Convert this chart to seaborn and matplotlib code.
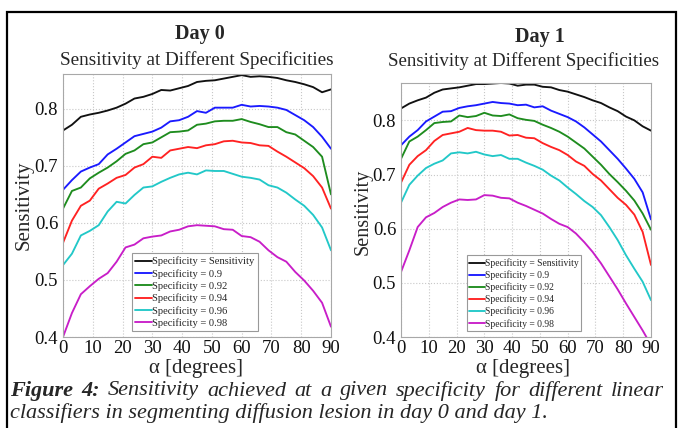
import numpy as np
import pandas as pd
import matplotlib
matplotlib.use("Agg")
import matplotlib.pyplot as plt
import seaborn as sns

# ---------------- data ----------------
alpha = list(range(0, 91, 3))
labels = ["Specificity = Sensitivity", "Specificity = 0.9", "Specificity = 0.92",
          "Specificity = 0.94", "Specificity = 0.96", "Specificity = 0.98"]

d0_sens = [0.762,0.772,0.786,0.790,0.793,0.797,0.802,0.809,0.818,0.821,0.826,0.833,0.832,0.836,0.840,0.847,
           0.849,0.850,0.853,0.856,0.859,0.856,0.857,0.856,0.854,0.850,0.847,0.843,0.838,0.829,0.834]
d0_090 = [0.658,0.675,0.690,0.697,0.703,0.720,0.730,0.741,0.752,0.756,0.760,0.767,0.778,0.780,0.786,0.796,
          0.793,0.802,0.802,0.802,0.807,0.804,0.805,0.804,0.802,0.798,0.789,0.780,0.768,0.751,0.730]
d0_092 = [0.625,0.656,0.662,0.678,0.688,0.697,0.708,0.721,0.727,0.738,0.741,0.750,0.759,0.760,0.762,0.772,
          0.774,0.778,0.779,0.779,0.782,0.777,0.773,0.768,0.768,0.759,0.755,0.744,0.733,0.716,0.650]
d0_094 = [0.565,0.604,0.630,0.639,0.660,0.669,0.679,0.684,0.697,0.703,0.716,0.714,0.727,0.730,0.733,0.731,
          0.736,0.738,0.743,0.744,0.741,0.740,0.736,0.735,0.725,0.716,0.706,0.696,0.682,0.662,0.625]
d0_096 = [0.526,0.546,0.578,0.586,0.596,0.620,0.637,0.634,0.649,0.662,0.664,0.672,0.679,0.685,0.688,0.685,
          0.692,0.691,0.691,0.686,0.681,0.679,0.676,0.666,0.662,0.653,0.641,0.630,0.614,0.592,0.552]
d0_098 = [0.400,0.442,0.475,0.489,0.502,0.512,0.532,0.557,0.562,0.573,0.576,0.578,0.585,0.588,0.594,0.596,
          0.595,0.594,0.589,0.588,0.577,0.575,0.567,0.552,0.540,0.532,0.514,0.499,0.481,0.460,0.418]

d1_sens = [0.822,0.831,0.837,0.842,0.851,0.857,0.859,0.861,0.864,0.867,0.867,0.868,0.869,0.868,0.864,0.866,
           0.866,0.862,0.861,0.856,0.853,0.848,0.843,0.837,0.832,0.824,0.817,0.807,0.800,0.789,0.781]
d1_090 = [0.754,0.770,0.782,0.798,0.807,0.816,0.817,0.823,0.826,0.828,0.831,0.834,0.832,0.831,0.828,0.829,
          0.824,0.826,0.818,0.812,0.806,0.798,0.787,0.774,0.761,0.745,0.729,0.711,0.692,0.667,0.617]
d1_092 = [0.729,0.761,0.770,0.782,0.795,0.797,0.798,0.809,0.806,0.808,0.814,0.809,0.808,0.811,0.804,0.801,
          0.799,0.792,0.786,0.779,0.770,0.759,0.748,0.733,0.718,0.701,0.686,0.670,0.652,0.628,0.598]
d1_094 = [0.685,0.718,0.734,0.745,0.762,0.773,0.776,0.779,0.786,0.782,0.781,0.781,0.779,0.772,0.773,0.768,
          0.767,0.758,0.751,0.745,0.736,0.724,0.716,0.701,0.689,0.673,0.657,0.644,0.626,0.594,0.533]
d1_096 = [0.648,0.681,0.698,0.712,0.720,0.726,0.739,0.741,0.739,0.742,0.737,0.734,0.736,0.729,0.729,0.722,
          0.716,0.709,0.698,0.689,0.676,0.664,0.651,0.640,0.625,0.603,0.579,0.551,0.526,0.502,0.468]
d1_098 = [0.520,0.560,0.603,0.621,0.629,0.640,0.648,0.654,0.653,0.654,0.662,0.661,0.657,0.656,0.648,0.642,
          0.635,0.628,0.618,0.609,0.603,0.591,0.575,0.557,0.536,0.512,0.488,0.462,0.437,0.412,0.385]

x_ticks = [0, 10, 20, 30, 40, 50, 60, 70, 80, 90]
y_ticks = [0.4, 0.5, 0.6, 0.7, 0.8]
colors = ["#111111", "#1a1aff", "#1e8c1e", "#ff2222", "#22c8c8", "#c81ec8"]

# ---------------- style ----------------
sns.set_theme(style="white")
plt.rcParams["font.family"] = ["Liberation Serif", "DejaVu Serif"]

W, H = 682, 428
fig = plt.figure(figsize=(W / 100, H / 100), dpi=100)

def px_rect(l, t, r, b):
    return [l / W, 1 - b / H, (r - l) / W, (b - t) / H]

def make_df(series):
    rows = []
    for lab, vals in zip(labels, series):
        for a, v in zip(alpha, vals):
            rows.append((a, v, lab))
    return pd.DataFrame(rows, columns=["alpha", "sens", "curve"])

panels = [
    dict(rect=px_rect(63, 74, 331, 337), series=[d0_sens, d0_090, d0_092, d0_094, d0_096, d0_098],
         ytop=0.861, leg=(0.258, 0.022), legfs=7.6),
    dict(rect=px_rect(401, 83, 651, 337), series=[d1_sens, d1_090, d1_092, d1_094, d1_096, d1_098],
         ytop=0.869, leg=(0.262, 0.022), legfs=6.9),
]

for p in panels:
    ax = fig.add_axes(p["rect"])
    df = make_df(p["series"])
    sns.lineplot(data=df, x="alpha", y="sens", hue="curve", hue_order=labels,
                 palette=colors, ax=ax, linewidth=1.35, legend=True)
    ax.set_xlim(0, 90)
    ax.set_ylim(0.4, p["ytop"])
    ax.set_xticks(x_ticks)
    ax.set_yticks(y_ticks)
    ax.set_yticklabels([f"{v:g}" for v in y_ticks])
    ax.set_xlabel("")
    ax.set_ylabel("")
    ax.grid(True, linestyle=":", color="#c8c8c8", linewidth=0.8)
    for s in ax.spines.values():
        s.set_color("#a8a8a8")
        s.set_linewidth(0.8)
    ax.tick_params(axis="both", labelsize=13.5, length=2, direction="in", color="#a8a8a8",
                   colors="#111111")
    ax.tick_params(axis="y", pad=3.5)
    ax.tick_params(axis="x", pad=2.5)
    handles, labs = ax.get_legend_handles_labels()
    leg = ax.legend(handles, labs, loc="lower left", bbox_to_anchor=p["leg"],
                    fontsize=p["legfs"], frameon=True, fancybox=False, handlelength=1.6,
                    handletextpad=0.0, labelspacing=0.25, borderpad=0.3, borderaxespad=0)
    leg.get_frame().set_edgecolor("#999999")
    leg.get_frame().set_linewidth(0.8)
    leg.get_frame().set_facecolor("white")
    leg.get_frame().set_alpha(1)

# ---------------- titles / labels ----------------
def ft(xp, yp, s, **kw):
    return fig.text(xp / W, 1 - yp / H, s, ha="center", va="center", **kw)

ft(200, 34, "Day 0", fontsize=14.5, fontweight="bold")
ft(197, 60, "Sensitivity at Different Specificities", fontsize=13.8)
ft(540, 37, "Day 1", fontsize=14.5, fontweight="bold")
ft(523, 61, "Sensitivity at Different Specificities", fontsize=13.6)
ft(24, 205, "Sensitivity", fontsize=15, rotation=90)
ft(363, 212, "Sensitivity", fontsize=14.5, rotation=90)
ft(196, 369, "α [degrees]", fontsize=15)
ft(523, 369, "α [degrees]", fontsize=15)

# ---------------- caption (justified first line) ----------------
fig.canvas.draw()
renderer = fig.canvas.get_renderer()
cap_fs = 16
line1 = [("Figure", "bold"), ("4:", "bold")] + [(w, "normal") for w in
         "Sensitivity achieved at a given specificity for different linear".split()]
x0, x1 = 10, 664
texts = []
widths = []
for w, wt in line1:
    t = fig.text(0, 1 - 391 / H, w, fontsize=cap_fs, fontstyle="italic", fontweight=wt,
                 ha="left", va="center")
    texts.append(t)
    widths.append(t.get_window_extent(renderer).width)
gap = ((x1 - x0) - sum(widths)) / (len(widths) - 1)
cx = x0
for t, wd in zip(texts, widths):
    t.set_x(cx / W)
    cx += wd + gap
fig.text(x0 / W, 1 - 413 / H, "classifiers in segmenting diffusion lesion in day 0 and day 1.",
         fontsize=cap_fs, fontstyle="italic", ha="left", va="center")

# ---------------- outer frame ----------------
frame = plt.Rectangle((7 / W, -0.05), (676 - 7) / W, 1 - 12 / H + 0.05, transform=fig.transFigure,
                      fill=False, edgecolor="black", linewidth=1.6)
fig.add_artist(frame)

fig.savefig("out.png", dpi=100)
